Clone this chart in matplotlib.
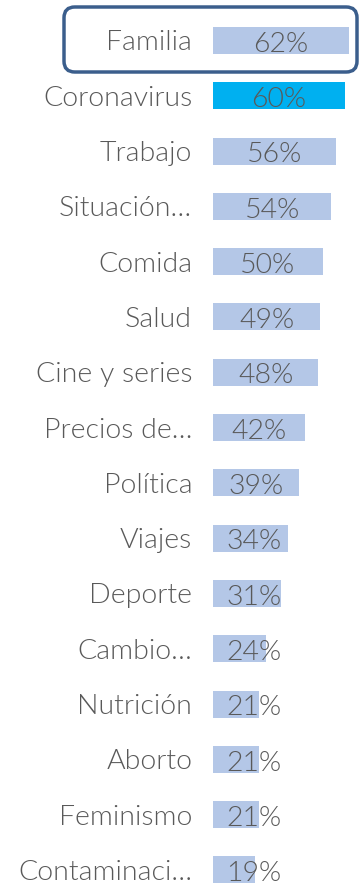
import matplotlib
matplotlib.use("Agg")
import matplotlib.pyplot as plt
from matplotlib.patches import FancyBboxPatch

categories = ["Familia", "Coronavirus", "Trabajo", "Situación…", "Comida", "Salud",
              "Cine y series", "Precios de…", "Política", "Viajes", "Deporte",
              "Cambio…", "Nutrición", "Aborto", "Feminismo", "Contaminaci…"]
values = [62, 60, 56, 54, 50, 49, 48, 42, 39, 34, 31, 24, 21, 21, 21, 19]
highlight = "Coronavirus"

W, H, DPI = 360, 886, 100
BAR_COLOR = "#B4C7E7"
HIGHLIGHT_COLOR = "#00B0F0"
TEXT_COLOR = "#595959"
FONT = ["Lato", "DejaVu Sans"]
FS = 20.5

fig = plt.figure(figsize=(W / DPI, H / DPI), dpi=DPI)
x0 = 213
ax = fig.add_axes([x0 / W, 0, 1 - x0 / W, 1])

first_c, last_c = 40.5, 870.0
n = len(categories)
row_h = (last_c - first_c) / (n - 1)
ys = list(range(n))
colors = [HIGHLIGHT_COLOR if c == highlight else BAR_COLOR for c in categories]
ax.barh(ys, values, height=27 / row_h, color=colors, edgecolor="none")

px_per_unit = 136 / 62
ax.set_xlim(0, (W - x0) / px_per_unit)
ax.set_ylim((H - first_c) / row_h, -first_c / row_h)

# value labels sit in the middle of the bar, but never further left than a minimum
min_center = (254 - x0) / px_per_unit
for y, v in zip(ys, values):
    ax.text(max(v / 2, min_center), y + 0.02, f"{v}%", ha="center",
            va="center_baseline", fontsize=FS, color=TEXT_COLOR,
            family=FONT, weight=300)

ax.set_yticks(ys)
ax.set_yticklabels(categories, fontsize=FS, color=TEXT_COLOR, family=FONT, weight=300)
ax.tick_params(axis="y", length=0, pad=15)
ax.set_xticks([])
for s in ax.spines.values():
    s.set_visible(False)

# rounded frame around the top row
box = FancyBboxPatch((64 / W, 1 - 72 / H), (357 - 64) / W, (72 - 7) / H,
                     boxstyle="round,pad=0,rounding_size=0.03",
                     transform=fig.transFigure, fill=False,
                     edgecolor="#3B5E8C", linewidth=2.5, mutation_aspect=W / H)
fig.patches.append(box)

fig.savefig("out.png", dpi=DPI)
